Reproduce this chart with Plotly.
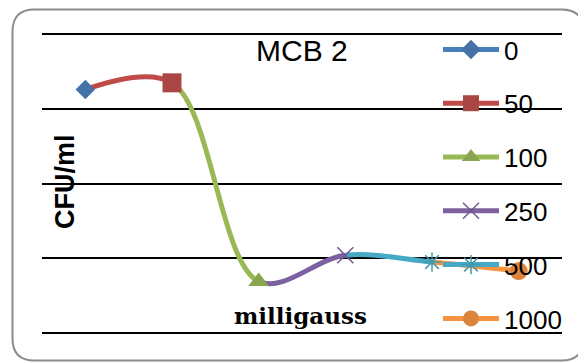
import plotly.graph_objects as go

# ---- data ----
categories = ["0", "50", "100", "250", "500", "1000"]          # milligauss
cfu = [3.26, 3.35, 0.69, 1.04, 0.95, 0.83]                      # CFU/ml (grid units)
title_text = "MCB 2"
x_title = "milligauss"
y_title = "CFU/ml"
y_ticks = [0, 1, 2, 3, 4]

# ---- styles ----
line_colors = ["#4A7EBB", "#BE4B48", "#98B954", "#7D60A0", "#46AAC5", "#F69240"]
marker_colors = ["#4572A7", "#AA4643", "#89A54E", "#71588F", "#4198AF", "#DB843D"]
marker_symbols = ["diamond", "square", "triangle-up", "x-thin-open", "asterisk-open", "circle"]
marker_sizes = [15, 19, 18, 16, 16, 18]

OFF = 8                      # page offset of the plot div
W, H = 586 - OFF, 363 - OFF
# page-pixel layout of the plot area
GRID_TOP, GRID_BOT = 34.3, 333.0
PLOT_LEFT, PLOT_RIGHT = 42.0, 562.0
PLOT_TOP, PLOT_BOT = 16.0, 352.0

ML = PLOT_LEFT - OFF
MR = W - (PLOT_RIGHT - OFF)
MT = PLOT_TOP - OFF
MB = H - (PLOT_BOT - OFF)
PW = W - ML - MR
PH = H - MT - MB

unit = (GRID_BOT - GRID_TOP) / (y_ticks[-1] - y_ticks[0])
y_range = [y_ticks[0] - (PLOT_BOT - GRID_BOT) / unit,
           y_ticks[-1] + (GRID_TOP - PLOT_TOP) / unit]


def px(x):
    """page x pixel -> paper"""
    return (x - OFF - ML) / PW


def py(y):
    """page y pixel -> paper"""
    return (H - MB - (y - OFF)) / PH


n = len(categories)
idx = list(range(n))

fig = go.Figure()

# base subplot (carries the gridlines)
fig.add_trace(go.Scatter(x=idx, y=cfu, mode="none", xaxis="x", yaxis="y",
                         showlegend=False, hoverinfo="skip"))

# smoothed line, each segment coloured like the point it leads to
for s in range(1, n):
    fig.add_trace(go.Scatter(
        x=idx, y=cfu, mode="lines",
        line=dict(shape="spline", width=5, color=line_colors[s], simplify=False),
        xaxis="x%d" % (s + 1), yaxis="y2",
        showlegend=False, hoverinfo="skip"))

# markers (and legend entries)
for i in range(n):
    open_sym = marker_symbols[i].endswith("open")
    fig.add_trace(go.Scatter(
        x=[idx[i]], y=[cfu[i]], name=categories[i], mode="lines+markers",
        line=dict(color=line_colors[i], width=5),
        marker=dict(symbol=marker_symbols[i], size=marker_sizes[i],
                    color=marker_colors[i],
                    line=dict(width=1.5 if open_sym else 0, color=marker_colors[i])),
        xaxis="x7", yaxis="y2", legendgroup=categories[i], cliponaxis=False))

hidden = dict(visible=False, showgrid=False, zeroline=False, showticklabels=False)
axes = {}
for s in range(1, n):
    axes["xaxis%d" % (s + 1)] = dict(
        hidden, domain=[(s - 0.5) / n, (s + 0.5) / n], range=[s - 1, s], anchor="y2")
axes["xaxis7"] = dict(hidden, domain=[0, 1], range=[-0.5, n - 0.5], anchor="y2")

fig.update_layout(
    width=W, height=H,
    margin=dict(l=ML, r=MR, t=MT, b=MB),
    paper_bgcolor="white", plot_bgcolor="rgba(0,0,0,0)",
    showlegend=True,
    xaxis=dict(domain=[0, 1], range=[-0.5, n - 0.5], showgrid=False, zeroline=False,
               showticklabels=False, ticks="", showline=False),
    yaxis=dict(domain=[0, 1], range=y_range, tickvals=y_ticks,
               showgrid=True, gridcolor="black", gridwidth=2, zeroline=False,
               showticklabels=False, ticks="", showline=False),
    yaxis2=dict(hidden, domain=[0, 1], range=y_range, anchor="x7"),
    **axes,
    legend=dict(x=px(438), y=py(26), xanchor="left", yanchor="top",
                bgcolor="rgba(0,0,0,0)", borderwidth=0,
                font=dict(family="Liberation Sans", size=26, color="black"),
                itemwidth=56, tracegroupgap=17, traceorder="grouped"),
    font=dict(family="Liberation Sans", color="black"),
)

fig.add_annotation(text=title_text, xref="paper", yref="paper", x=px(302), y=py(51),
                   xanchor="center", yanchor="middle", showarrow=False,
                   font=dict(family="Liberation Sans", size=30, color="black"))
fig.add_annotation(text="<b>%s</b>" % y_title, xref="paper", yref="paper", x=px(65), y=py(182),
                   xanchor="center", yanchor="middle", showarrow=False, textangle=-90,
                   font=dict(family="Liberation Sans", size=27, color="black"))
fig.add_annotation(text="<b>%s</b>" % x_title, xref="paper", yref="paper", x=px(300), y=py(315),
                   xanchor="center", yanchor="middle", showarrow=False,
                   font=dict(family="DejaVu Serif", size=23, color="black"))

# rounded outer frame
L, T, R, B, r = 12.5, 9.5, 583.5, 360.5, 22
path = ("M {a},{b} L {a},{c} Q {a},{d} {e},{d} L {f},{d} Q {g},{d} {g},{c} "
        "L {g},{b} Q {g},{h} {f},{h} L {e},{h} Q {a},{h} {a},{b} Z").format(
    a=px(L), b=py(T + r), c=py(B - r), d=py(B), e=px(L + r), f=px(R - r),
    g=px(R), h=py(T))
fig.add_shape(type="path", path=path, xref="paper", yref="paper",
              line=dict(color="#8C8C8C", width=2), fillcolor="rgba(0,0,0,0)")

fig.write_html("out.html")
